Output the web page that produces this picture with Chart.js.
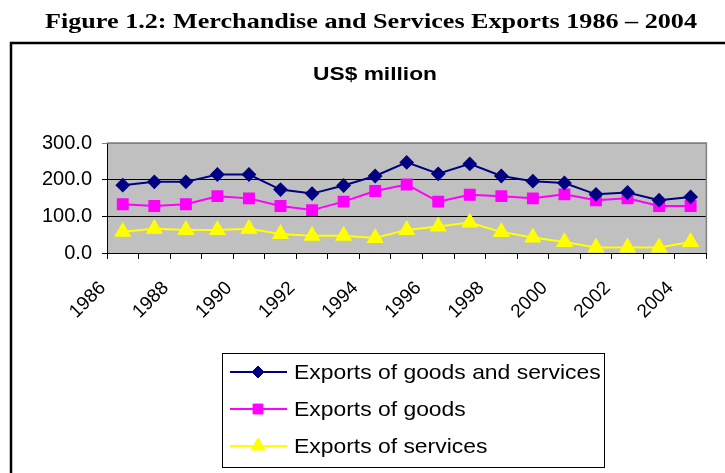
<!DOCTYPE html>
<html>
<head>
<meta charset="utf-8">
<script src="https://cdn.jsdelivr.net/npm/chart.js@4/dist/chart.umd.min.js"></script>
<style>
  html, body { margin: 0; padding: 0; background: #fff; }
  #wrap { width: 725px; height: 473px; }
</style>
</head>
<body>
<div id="wrap"><canvas id="exportsChart" width="725" height="473"></canvas></div>
<script>
// Data (US$ million)
const years = ['1986', '1987', '1988', '1989', '1990', '1991', '1992', '1993', '1994', '1995',
  '1996', '1997', '1998', '1999', '2000', '2001', '2002', '2003', '2004'];
const goodsAndServices = [185, 194, 194, 214, 214, 173, 162, 184, 210, 247, 216, 243, 210, 196, 191, 160, 165, 144, 153];
const goods = [133, 128, 133, 155, 149, 128, 117, 140, 169, 187, 140, 159, 155, 149, 160, 144, 149, 128, 128];
const services = [58, 66, 63, 63, 66, 52, 47, 47, 41, 63, 72, 83, 57, 42, 30, 15, 15, 15, 30];
const yTicks = [0, 100, 200, 300];

const figureTitle = 'Figure 1.2: Merchandise and Services Exports 1986 \u2013 2004';
const chartTitle = 'US$ million';

// draw text squeezed/stretched to a given width
function fitText(ctx, text, x, y, width) {
  const w = ctx.measureText(text).width;
  ctx.save();
  ctx.translate(x, y);
  ctx.scale(width / w, 1);
  ctx.textAlign = 'left';
  ctx.fillText(text, 0, 0);
  ctx.restore();
}

function marker(ctx, style, x, y, r, color) {
  ctx.save();
  ctx.fillStyle = color;
  ctx.strokeStyle = color;
  ctx.lineWidth = 1;
  Chart.helpers.drawPoint(ctx, { pointStyle: style, radius: r, rotation: 0, borderWidth: 1 }, x, y);
  ctx.restore();
}

const framePlugin = {
  id: 'frame',
  beforeDraw(chart) {
    const ctx = chart.ctx;
    const a = chart.chartArea;
    ctx.save();
    // figure caption
    ctx.fillStyle = '#000';
    ctx.font = 'bold 22px "Liberation Serif", "Times New Roman", serif';
    ctx.textBaseline = 'alphabetic';
    fitText(ctx, figureTitle, 45, 28, 652);
    // outer chart frame
    ctx.strokeStyle = '#000';
    ctx.lineWidth = 2.5;
    ctx.beginPath();
    ctx.moveTo(11, 480);
    ctx.lineTo(11, 43);
    ctx.lineTo(730, 43);
    ctx.stroke();
    // chart title
    ctx.font = 'bold 18px "Liberation Sans", Arial, sans-serif';
    fitText(ctx, chartTitle, 313, 80, 124);
    // plot background
    ctx.fillStyle = '#c0c0c0';
    ctx.fillRect(a.left, a.top, a.right - a.left, a.bottom - a.top);
    ctx.restore();
  },
  afterDraw(chart) {
    const ctx = chart.ctx;
    const a = chart.chartArea;
    ctx.save();
    // plot border (top/right in grey)
    ctx.strokeStyle = '#808080';
    ctx.lineWidth = 1.5;
    ctx.beginPath();
    ctx.moveTo(a.left, a.top);
    ctx.lineTo(a.right, a.top);
    ctx.lineTo(a.right, a.bottom);
    ctx.stroke();

    // legend box
    const bx = 222, by = 353, bw = 382, bh = 114;
    ctx.fillStyle = '#fff';
    ctx.fillRect(bx, by, bw, bh);
    ctx.strokeStyle = '#000';
    ctx.lineWidth = 1;
    ctx.strokeRect(bx + 0.5, by + 0.5, bw, bh);
    ctx.font = '21px "Liberation Sans", Arial, sans-serif';
    ctx.textBaseline = 'middle';
    chart.data.datasets.forEach((ds, i) => {
      const y = 372 + i * 37;
      ctx.strokeStyle = ds.borderColor;
      ctx.lineWidth = 2;
      ctx.beginPath();
      ctx.moveTo(230, y);
      ctx.lineTo(287, y);
      ctx.stroke();
      marker(ctx, ds.pointStyle, 258, y, ds.pointRadius, ds.pointBackgroundColor);
      ctx.fillStyle = '#000';
      const w = ctx.measureText(ds.label).width * 1.09;
      fitText(ctx, ds.label, 294, y + 1, w);
    });
    ctx.restore();
  }
};

function series(label, data, color, style, radius) {
  return {
    label: label,
    data: data,
    borderColor: color,
    backgroundColor: color,
    pointBackgroundColor: color,
    pointBorderColor: color,
    pointStyle: style,
    pointRadius: radius,
    pointHoverRadius: radius,
    borderWidth: 2,
    tension: 0,
    fill: false
  };
}

new Chart(document.getElementById('exportsChart'), {
  type: 'line',
  data: {
    labels: years,
    datasets: [
      series('Exports of goods and services', goodsAndServices, '#000080', 'rectRot', 6),
      series('Exports of goods', goods, '#ff00ff', 'rect', 7),
      series('Exports of services', services, '#ffff00', 'triangle', 8)
    ]
  },
  options: {
    responsive: false,
    animation: false,
    events: [],
    layout: { padding: { left: 0, top: 143, right: 8, bottom: 0 } },
    plugins: {
      legend: { display: false },
      title: { display: false },
      tooltip: { enabled: false }
    },
    scales: {
      x: {
        type: 'category',
        offset: true,
        afterFit(scale) { scale.height = 220; },
        grid: {
          offset: true,
          drawOnChartArea: false,
          drawTicks: true,
          tickLength: 6,
          color: '#000',
          lineWidth: 1
        },
        border: { display: true, color: '#000', width: 1 },
        ticks: {
          autoSkip: false,
          maxRotation: 45,
          minRotation: 45,
          padding: 18,
          labelOffset: -20,
          color: '#000',
          font: { family: '"Liberation Sans", Arial, sans-serif', size: 19 },
          callback(value, index) { return index % 2 === 0 ? this.getLabelForValue(value) : ''; }
        }
      },
      y: {
        min: 0,
        max: 300,
        afterFit(scale) { scale.width = 107; },
        afterBuildTicks(scale) { scale.ticks = yTicks.map(v => ({ value: v })); },
        grid: {
          drawTicks: true,
          tickLength: 5,
          color(c) { return c.tick && c.tick.value === 300 ? '#808080' : '#000'; },
          lineWidth: 1
        },
        border: { display: true, color: '#000', width: 1 },
        ticks: {
          padding: 10,
          color: '#000',
          font: { family: '"Liberation Sans", Arial, sans-serif', size: 20 },
          callback(v) { return Number(v).toFixed(1); }
        }
      }
    }
  },
  plugins: [framePlugin]
});
</script>
</body>
</html>
